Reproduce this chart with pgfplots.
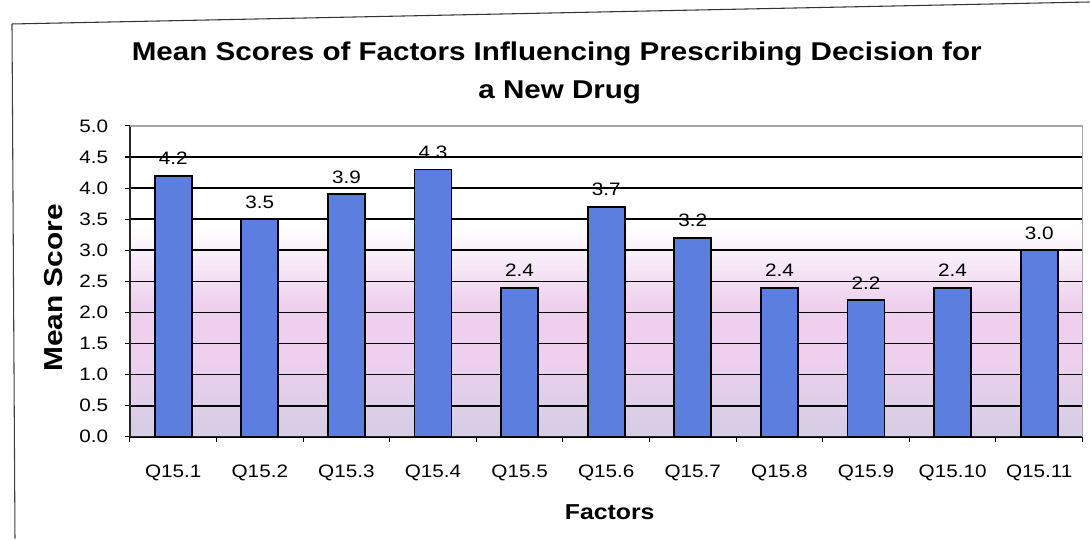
\documentclass[border=0pt]{standalone}
\usepackage{fontspec}
\setmainfont{Liberation Sans}
\newfontfamily\widesans[FakeStretch=1.15]{Liberation Sans}
\usepackage{pgfplots}
\pgfplotsset{compat=1.18}

\definecolor{barblue}{RGB}{92,126,222}
\definecolor{bglav}{RGB}{212,206,228}
\definecolor{bgpink}{RGB}{238,208,238}
% plot-area fill: lavender at the floor, pink in the middle, white above
\pgfdeclareverticalshading{plotbg}{100bp}{%
  color(0bp)=(bglav); color(25bp)=(bglav); color(38bp)=(bgpink);
  color(46bp)=(bgpink); color(59bp)=(white); color(100bp)=(white)}

\begin{document}
\begin{tikzpicture}[x=0.75pt,y=0.75pt]
\path (0,0) rectangle (1090,539);
% chart frame
\draw[line width=0.8pt, black!80] (12,515) -- (1090,537);
\draw[line width=0.8pt, black!75] (12,515) -- (15,0);

\begin{axis}[
  at={(97.5pt,76.5pt)}, anchor=south west,
  scale only axis, width=714.75pt, height=233.25pt,
  xmin=-0.5, xmax=10.5, ymin=0, ymax=5,
  ybar, bar width=27.75pt,
  axis x line*=bottom, axis y line*=left,
  axis line style={black!85, line width=1pt},
  axis background/.style={shading=plotbg},
  ytick={0,0.5,...,5},
  yticklabel style={xshift=-9pt, /pgf/number format/.cd, fixed, fixed zerofill, precision=1},
  xtick={-0.5,0.5,...,10.5},
  x tick label as interval,
  xticklabels={Q15.1,Q15.2,Q15.3,Q15.4,Q15.5,Q15.6,Q15.7,Q15.8,Q15.9,Q15.10,Q15.11},
  /pgf/number format/assume math mode=true,
  tick label style={font=\widesans\fontsize{13.5}{16}\selectfont, black},
  xticklabel style={yshift=-14pt},
  tick align=outside, major tick length=3.75pt,
  tick style={black, line width=0.8pt},
  ymajorgrids, grid style={black, line width=1.2pt},
  nodes near coords,
  every node near coord/.append style={font=\widesans\fontsize{13.5}{16}\selectfont, black,
    anchor=south, yshift=4pt,
    /pgf/number format/.cd, fixed, fixed zerofill, precision=1},
  clip=false,
]
\addplot[fill=barblue, draw=black, line width=1.4pt] coordinates {
  (0,4.2) (1,3.5) (2,3.9) (3,4.3) (4,2.4) (5,3.7)
  (6,3.2) (7,2.4) (8,2.2) (9,2.4) (10,3.0)
};
\draw[black!35, line width=1.2pt] (rel axis cs:0,1) -- (rel axis cs:1,1) -- (rel axis cs:1,0);
\end{axis}

% titles
\node[anchor=base, font=\widesans\bfseries\fontsize{19.3}{22}\selectfont] at (557,478)
  {Mean Scores of Factors Influencing Prescribing Decision for};
\node[anchor=base, font=\widesans\bfseries\fontsize{19.3}{22}\selectfont] at (560,440)
  {a New Drug};
\node[anchor=base, font=\widesans\bfseries\fontsize{16.2}{19}\selectfont] at (610,19) {Factors};
\node[anchor=base, rotate=90, font=\widesans\bfseries\fontsize{19.5}{23}\selectfont] at (63,251) {Mean Score};
\end{tikzpicture}
\end{document}
